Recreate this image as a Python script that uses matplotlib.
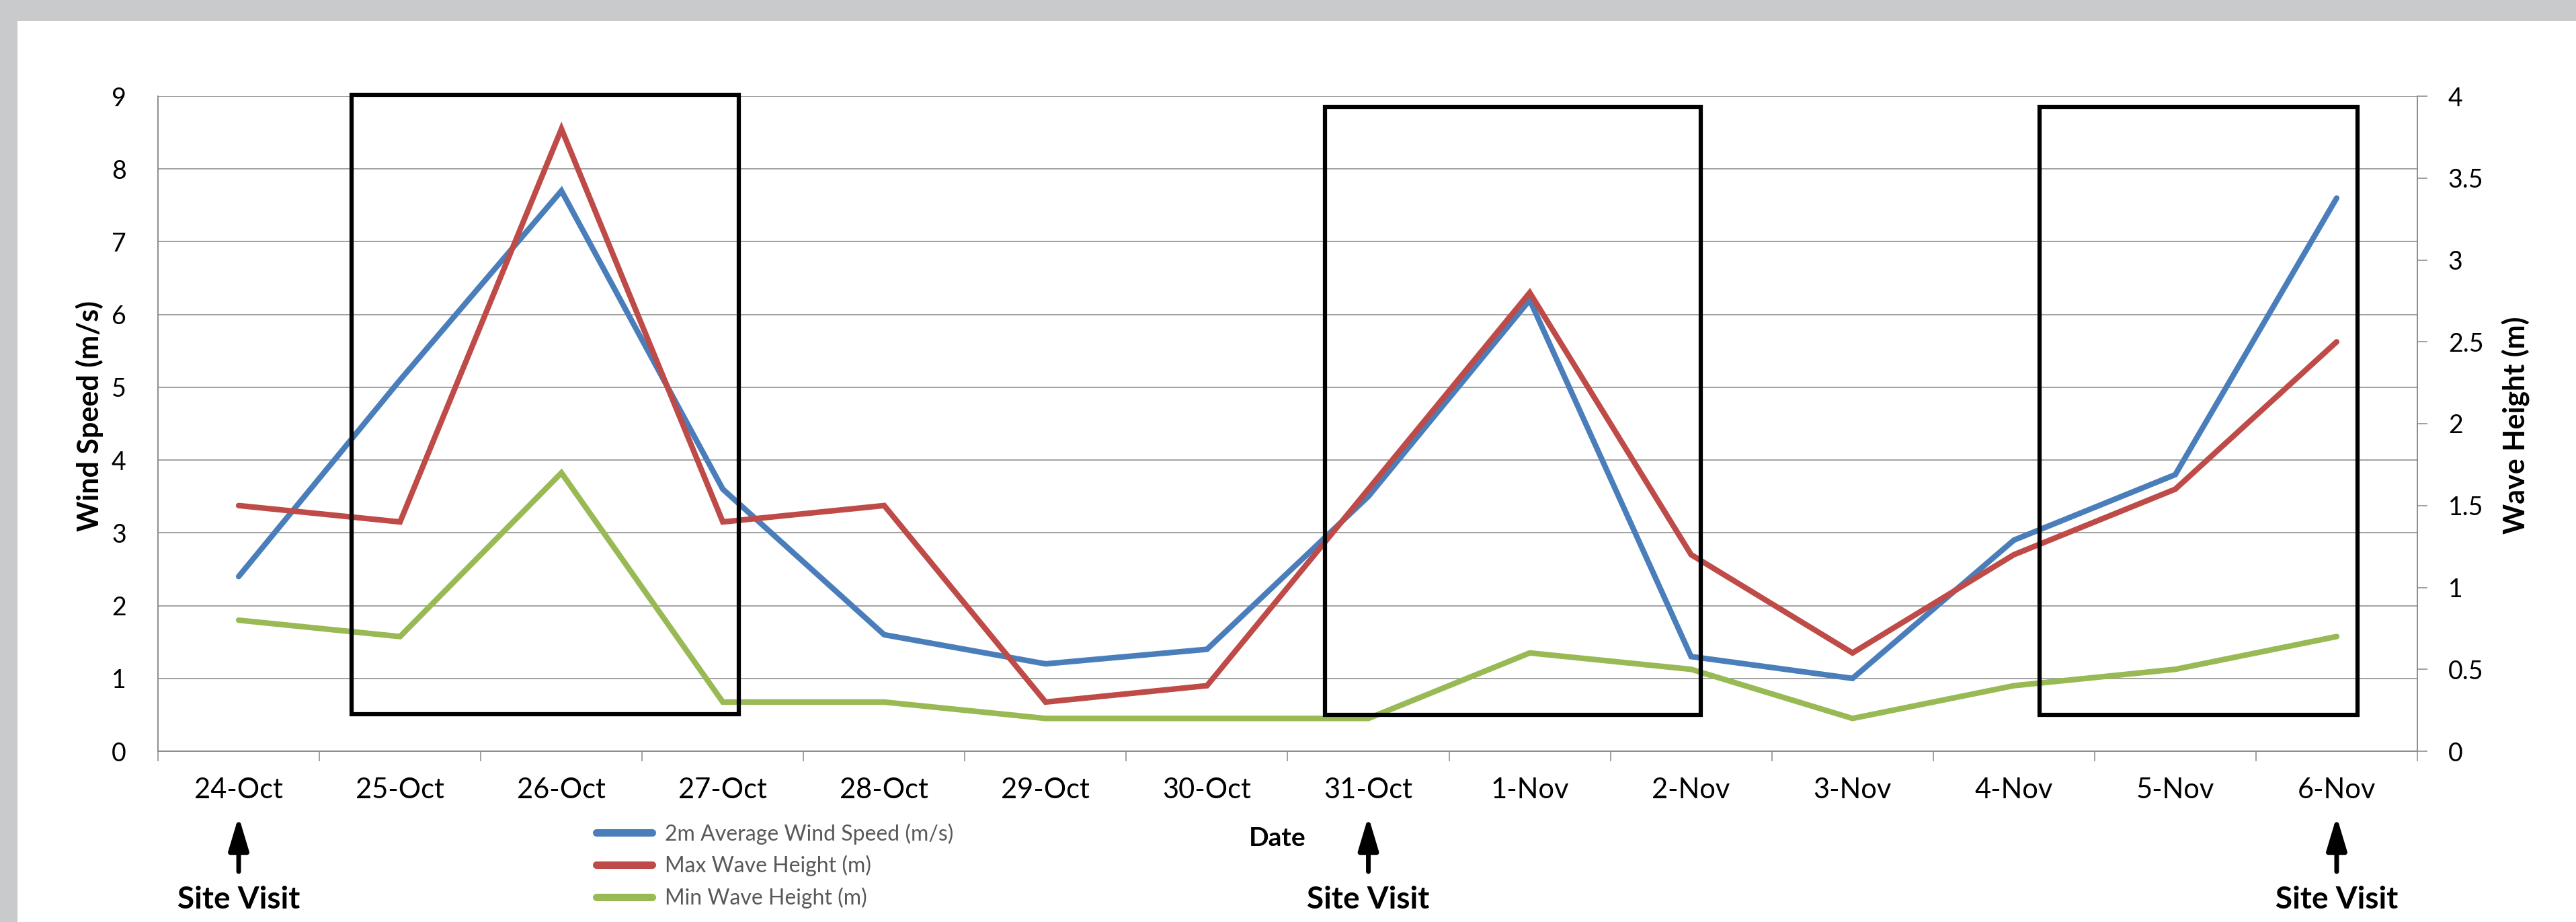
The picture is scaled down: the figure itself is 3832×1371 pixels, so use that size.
import matplotlib
matplotlib.use("Agg")
from matplotlib import pyplot as plt
from matplotlib.patches import Rectangle

plt.rcParams['font.family'] = ['Lato', 'DejaVu Sans']

# данные
dates = ["24-Oct", "25-Oct", "26-Oct", "27-Oct", "28-Oct", "29-Oct", "30-Oct",
         "31-Oct", "1-Nov", "2-Nov", "3-Nov", "4-Nov", "5-Nov", "6-Nov"]
wind_speed = [2.4, 5.1, 7.7, 3.6, 1.6, 1.2, 1.4, 3.5, 6.2, 1.3, 1.0, 2.9, 3.8, 7.6]
max_wave = [1.5, 1.4, 3.8, 1.4, 1.5, 0.3, 0.4, 1.6, 2.8, 1.2, 0.6, 1.2, 1.6, 2.5]
min_wave = [0.8, 0.7, 1.7, 0.3, 0.3, 0.2, 0.2, 0.2, 0.6, 0.5, 0.2, 0.4, 0.5, 0.7]
site_visits = ["24-Oct", "31-Oct", "6-Nov"]

# рамки (x в номерах категорий, y в м/с)
boxes = [(0.70, 3.10, 0.51, 9.02), (6.73, 9.06, 0.50, 8.85), (11.16, 13.13, 0.50, 8.85)]

BLUE, RED, GREEN = "#4a7ebb", "#be4b48", "#98b954"
GRID = "#888888"
W, H = 3832, 1371

fig = plt.figure(figsize=(W / 100, H / 100), dpi=100, facecolor="#c8cacb")
fig.patches.append(Rectangle((26 / W, 0), 1, 1 - 31 / H, transform=fig.transFigure,
                             facecolor="white", edgecolor="none", zorder=-10))

ax = fig.add_axes([235 / W, 1 - 1117 / H, (3596 - 235) / W, (1117 - 143) / H])
ax2 = ax.twinx()
ax.set_facecolor("none")

xs = list(range(len(dates)))
l1, = ax.plot(xs, wind_speed, color=BLUE, lw=6, solid_capstyle="round",
              solid_joinstyle="miter", label="2m Average Wind Speed (m/s)", zorder=3)
l2, = ax2.plot(xs, max_wave, color=RED, lw=6, solid_capstyle="round",
               solid_joinstyle="miter", label="Max Wave Height (m)", zorder=3)
l3, = ax2.plot(xs, min_wave, color=GREEN, lw=6, solid_capstyle="round",
               solid_joinstyle="miter", label="Min Wave Height (m)", zorder=3)

ax.set_xlim(-0.5, len(dates) - 0.5)
ax.set_ylim(0, 9)
ax2.set_ylim(0, 4)
ax.set_yticks(range(10))
ax2.set_yticks([0, 0.5, 1, 1.5, 2, 2.5, 3, 3.5, 4])
ax2.set_yticklabels(["0", "0.5", "1", "1.5", "2", "2.5", "3", "3.5", "4"])

ax.set_xticks([i - 0.5 for i in range(len(dates) + 1)])
ax.set_xticklabels([])
ax.set_xticks(xs, minor=True)
ax.set_xticklabels(dates, minor=True)
ax.tick_params(axis="x", which="major", length=11, width=1.1, color=GRID, direction="out")
ax.tick_params(axis="x", which="minor", length=0, pad=28, labelsize=30)
ax.tick_params(axis="y", length=0, pad=34, labelsize=27)
ax2.tick_params(axis="y", length=11, width=1.1, color=GRID, pad=22, labelsize=27)

ax.grid(axis="y", color=GRID, lw=1.1)
ax.set_axisbelow(True)
for a in (ax, ax2):
    a.spines["top"].set_visible(False)
    for s in ("left", "right", "bottom"):
        a.spines[s].set_color(GRID)
        a.spines[s].set_linewidth(1.1)

for x0, x1, y0, y1 in boxes:
    ax2.add_patch(Rectangle((x0, y0), x1 - x0, y1 - y0, transform=ax.transData,
                            fill=False, edgecolor="black", lw=4.5, clip_on=False,
                            joinstyle="miter", zorder=5))

fig.text(133 / W, 1 - 618 / H, "Wind Speed (m/s)", rotation=90, ha="center",
         va="center", fontsize=31, fontweight="bold")
fig.text(3743 / W, 1 - 632 / H, "Wave Height (m)", rotation=90, ha="center",
         va="center", fontsize=31, fontweight="bold")
fig.text(1900 / W, 1 - 1247 / H, "Date", ha="center", va="center",
         fontsize=28, fontweight="bold")

for d in site_visits:
    i = dates.index(d)
    ax.annotate("", xy=(i, 1 - 1214 / H), xytext=(i, 1 - 1296 / H),
                xycoords=("data", "figure fraction"), textcoords=("data", "figure fraction"),
                arrowprops=dict(arrowstyle="-|>,head_length=1.5,head_width=0.45",
                                mutation_scale=20, lw=5, color="black",
                                shrinkA=0, shrinkB=0), annotation_clip=False)
    ax.annotate("Site Visit", xy=(i, 1 - 1338 / H), xycoords=("data", "figure fraction"),
                ha="center", va="center", fontsize=33, fontweight="bold",
                annotation_clip=False)

leg = fig.legend([l1, l2, l3], [l.get_label() for l in (l1, l2, l3)],
                 loc="upper left", bbox_to_anchor=(887 / W, 1 - 1224 / H),
                 frameon=False, fontsize=23, labelspacing=0.5, handlelength=2.6,
                 handletextpad=0.6, borderpad=0, borderaxespad=0)
for t in leg.get_texts():
    t.set_color("#595959")
for h in leg.get_lines():
    h.set_linewidth(8)

fig.savefig("out.png", dpi=100, facecolor=fig.get_facecolor())
